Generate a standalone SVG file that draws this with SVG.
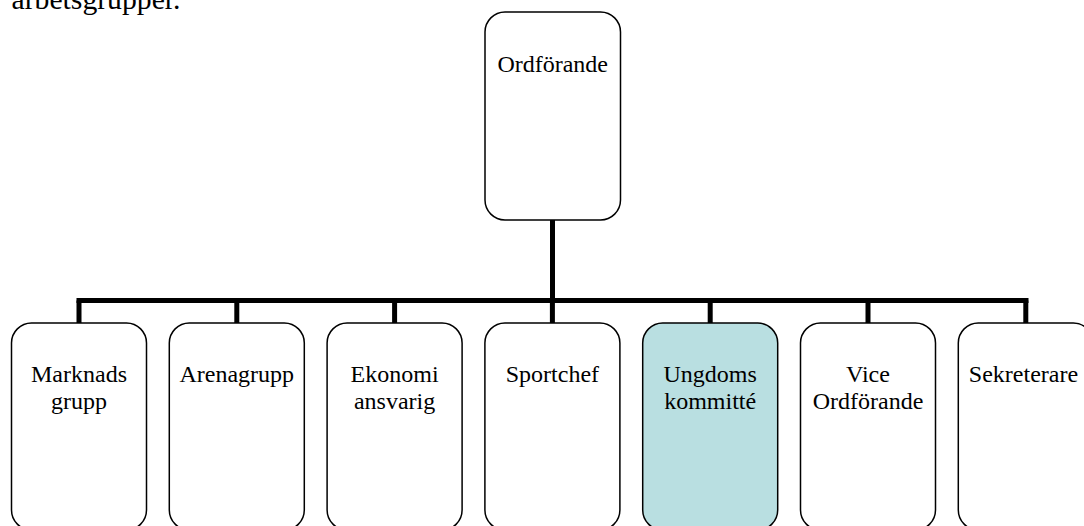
<svg xmlns="http://www.w3.org/2000/svg" width="1084" height="526" viewBox="0 0 1084 526">
<style>
.box{fill:#ffffff;stroke:#000000;stroke-width:1.5}
.hl{fill:#b9dfe1}
.t{font-family:"Liberation Serif","Times New Roman",serif;font-size:24px;fill:#000000;text-anchor:middle}
.body{font-family:"Liberation Serif","Times New Roman",serif;font-size:29.7px;fill:#000000}
.c{stroke:#000000;stroke-width:5;fill:none;stroke-linecap:butt}
</style>
<rect width="1084" height="526" fill="#ffffff"/>
<text class="body" x="11.5" y="9">arbetsgrupper.</text>
<g id="connectors">
<path class="c" d="M552.5 220 V300.5"/>
<path class="c" d="M76.5 300.5 H1028.5"/>
<path class="c" d="M79 300.5 V323 M236.8 300.5 V323 M394.6 300.5 V323 M552.4 300.5 V323 M710.2 300.5 V323 M868 300.5 V323 M1025.8 300.5 V323"/>
</g>
<g id="ordforande">
<rect class="box" x="485" y="12" width="135.5" height="208" rx="20"/>
<text class="t" x="552.7" y="71.7">Ordförande</text>
</g>
<g id="marknadsgrupp">
<rect class="box" x="11.5" y="323" width="135" height="207" rx="20"/>
<text class="t" x="79" y="381.7">Marknads</text>
<text class="t" x="79" y="408.5">grupp</text>
</g>
<g id="arenagrupp">
<rect class="box" x="169.3" y="323" width="135" height="207" rx="20"/>
<text class="t" x="236.8" y="381.7">Arenagrupp</text>
</g>
<g id="ekonomiansvarig">
<rect class="box" x="327.1" y="323" width="135" height="207" rx="20"/>
<text class="t" x="394.6" y="381.7">Ekonomi</text>
<text class="t" x="394.6" y="408.5">ansvarig</text>
</g>
<g id="sportchef">
<rect class="box" x="484.9" y="323" width="135" height="207" rx="20"/>
<text class="t" x="552.4" y="381.7">Sportchef</text>
</g>
<g id="ungdomskommitte">
<rect class="box hl" x="642.7" y="323" width="135" height="207" rx="20"/>
<text class="t" x="710.2" y="381.7">Ungdoms</text>
<text class="t" x="710.2" y="408.5">kommitté</text>
</g>
<g id="viceordforande">
<rect class="box" x="800.5" y="323" width="135" height="207" rx="20"/>
<text class="t" x="868" y="381.7">Vice</text>
<text class="t" x="868" y="408.5">Ordförande</text>
</g>
<g id="sekreterare">
<rect class="box" x="958.3" y="323" width="135" height="207" rx="20"/>
<text class="t" x="1023.5" y="381.7">Sekreterare</text>
</g>
</svg>
